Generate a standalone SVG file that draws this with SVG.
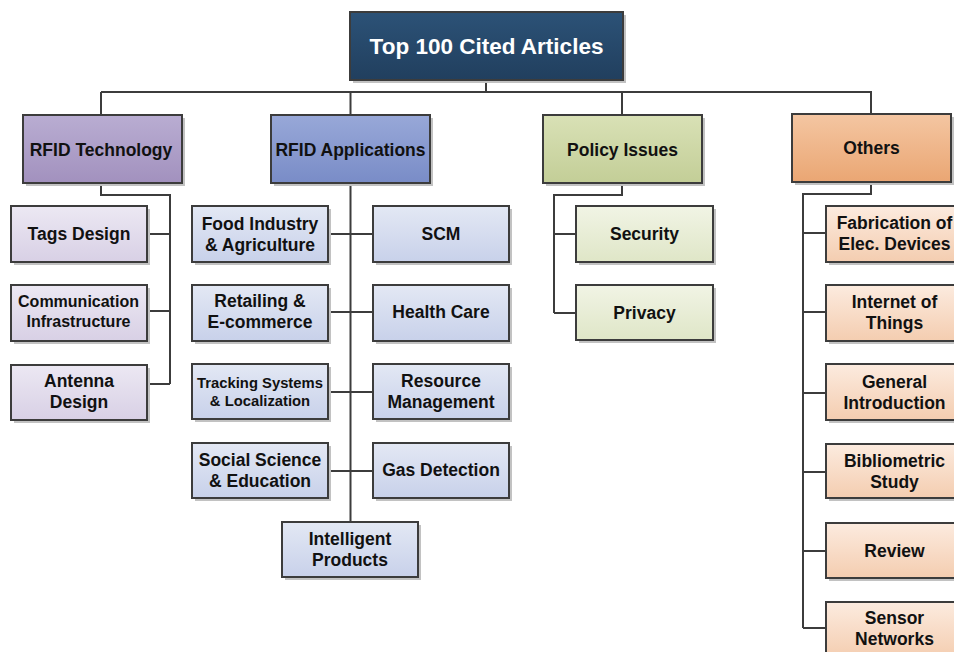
<svg xmlns="http://www.w3.org/2000/svg" width="954" height="652" viewBox="0 0 954 652">
<defs>
<linearGradient id="gTop" x1="0" y1="0" x2="0" y2="1"><stop offset="0" stop-color="#2c5277"/><stop offset="1" stop-color="#213f5e"/></linearGradient>
<linearGradient id="gPur" x1="0" y1="0" x2="0" y2="1"><stop offset="0" stop-color="#b9add2"/><stop offset="1" stop-color="#a291be"/></linearGradient>
<linearGradient id="gBlu" x1="0" y1="0" x2="0" y2="1"><stop offset="0" stop-color="#98a8d8"/><stop offset="1" stop-color="#798cc7"/></linearGradient>
<linearGradient id="gGrn" x1="0" y1="0" x2="0" y2="1"><stop offset="0" stop-color="#d9e1b6"/><stop offset="1" stop-color="#c3ce97"/></linearGradient>
<linearGradient id="gOrg" x1="0" y1="0" x2="0" y2="1"><stop offset="0" stop-color="#f4c6a2"/><stop offset="1" stop-color="#eaa673"/></linearGradient>
<linearGradient id="cPur" x1="0" y1="0" x2="0" y2="1"><stop offset="0" stop-color="#ece8f3"/><stop offset="1" stop-color="#d8d0e5"/></linearGradient>
<linearGradient id="cBlu" x1="0" y1="0" x2="0" y2="1"><stop offset="0" stop-color="#e3e8f4"/><stop offset="1" stop-color="#c8d1ea"/></linearGradient>
<linearGradient id="cGrn" x1="0" y1="0" x2="0" y2="1"><stop offset="0" stop-color="#f1f4e5"/><stop offset="1" stop-color="#dfe6c7"/></linearGradient>
<linearGradient id="cOrg" x1="0" y1="0" x2="0" y2="1"><stop offset="0" stop-color="#fcebdf"/><stop offset="1" stop-color="#f4cdb0"/></linearGradient>
</defs>
<style>
.sh{fill:#c2c2c2;}
.bx{stroke:#3c3c3c;stroke-width:2;}
text{font-family:"Liberation Sans",Arial,sans-serif;font-weight:bold;text-anchor:middle;fill:#111;font-size:17.5px;}
.title{fill:#fff;font-size:22.5px;}
.sm{font-size:16px;}
.xs{font-size:14.8px;}
.cn{fill:none;stroke:#3c3c3c;stroke-width:2;}
</style>
<rect width="954" height="652" fill="#fff"/>

<g id="connectors" class="cn">
<path d="M486 80V92M101 92H872M101 92V115M350.5 92V115M622 92V115M871 92V114"/>
<path d="M101 183V195H170V384M147 234H170M147 311H170M147 384H170"/>
<path d="M350.5 183V522M328 234H373M328 312H373M328 392H373M328 471H373"/>
<path d="M622 183V195H554V313M554 234H576M554 313H576"/>
<path d="M871 182V194H803V628M803 233H826M803 312H826M803 393H826M803 472H826M803 551H826M803 628H826"/>
</g>

<g id="top"><rect class="sh" x="353" y="15" width="273" height="68"/><rect class="bx" x="350" y="12" width="273" height="68" fill="url(#gTop)"/><text class="title" x="486.5" y="54">Top 100 Cited Articles</text></g>

<g id="rfid-tech"><rect class="sh" x="26" y="118" width="159" height="68"/><rect class="bx" x="23" y="115" width="159" height="68" fill="url(#gPur)"/><text x="101" y="155.5">RFID Technology</text></g>
<g id="tags"><rect class="sh" x="14" y="209" width="136" height="56"/><rect class="bx" x="11" y="206" width="136" height="56" fill="url(#cPur)"/><text x="79" y="240">Tags Design</text></g>
<g id="comm"><rect class="sh" x="14" y="288" width="136" height="56"/><rect class="bx" x="11" y="285" width="136" height="56" fill="url(#cPur)"/><text class="sm" x="78.5" y="307">Communication</text><text class="sm" x="78.5" y="327">Infrastructure</text></g>
<g id="antenna"><rect class="sh" x="14" y="368" width="136" height="55"/><rect class="bx" x="11" y="365" width="136" height="55" fill="url(#cPur)"/><text x="79" y="387">Antenna</text><text x="79" y="408">Design</text></g>

<g id="rfid-app"><rect class="sh" x="274" y="118" width="159" height="68"/><rect class="bx" x="271" y="115" width="159" height="68" fill="url(#gBlu)"/><text x="350.5" y="155.5">RFID Applications</text></g>
<g id="food"><rect class="sh" x="195" y="209" width="136" height="56"/><rect class="bx" x="192" y="206" width="136" height="56" fill="url(#cBlu)"/><text x="260" y="229.5">Food Industry</text><text x="260" y="250.5">&amp; Agriculture</text></g>
<g id="scm"><rect class="sh" x="376" y="209" width="136" height="56"/><rect class="bx" x="373" y="206" width="136" height="56" fill="url(#cBlu)"/><text x="441" y="240">SCM</text></g>
<g id="retail"><rect class="sh" x="195" y="288" width="136" height="56"/><rect class="bx" x="192" y="285" width="136" height="56" fill="url(#cBlu)"/><text x="260" y="307">Retailing &amp;</text><text x="260" y="328">E-commerce</text></g>
<g id="health"><rect class="sh" x="376" y="288" width="136" height="56"/><rect class="bx" x="373" y="285" width="136" height="56" fill="url(#cBlu)"/><text x="441" y="318">Health Care</text></g>
<g id="tracking"><rect class="sh" x="195" y="367" width="136" height="55"/><rect class="bx" x="192" y="364" width="136" height="55" fill="url(#cBlu)"/><text class="xs" x="260" y="388">Tracking Systems</text><text class="xs" x="260" y="406">&amp; Localization</text></g>
<g id="resource"><rect class="sh" x="376" y="367" width="136" height="55"/><rect class="bx" x="373" y="364" width="136" height="55" fill="url(#cBlu)"/><text x="441" y="387">Resource</text><text x="441" y="408">Management</text></g>
<g id="social"><rect class="sh" x="195" y="446" width="136" height="55"/><rect class="bx" x="192" y="443" width="136" height="55" fill="url(#cBlu)"/><text x="260" y="466">Social Science</text><text x="260" y="487">&amp; Education</text></g>
<g id="gas"><rect class="sh" x="376" y="446" width="136" height="55"/><rect class="bx" x="373" y="443" width="136" height="55" fill="url(#cBlu)"/><text x="441" y="476">Gas Detection</text></g>
<g id="intelligent"><rect class="sh" x="285" y="525" width="136" height="55"/><rect class="bx" x="282" y="522" width="136" height="55" fill="url(#cBlu)"/><text x="350" y="545">Intelligent</text><text x="350" y="566">Products</text></g>

<g id="policy"><rect class="sh" x="546" y="118" width="159" height="68"/><rect class="bx" x="543" y="115" width="159" height="68" fill="url(#gGrn)"/><text x="622.5" y="155.5">Policy Issues</text></g>
<g id="security"><rect class="sh" x="579" y="209" width="137" height="56"/><rect class="bx" x="576" y="206" width="137" height="56" fill="url(#cGrn)"/><text x="644.5" y="240">Security</text></g>
<g id="privacy"><rect class="sh" x="579" y="288" width="137" height="55"/><rect class="bx" x="576" y="285" width="137" height="55" fill="url(#cGrn)"/><text x="644.5" y="319">Privacy</text></g>

<g id="others"><rect class="sh" x="795" y="117" width="159" height="68"/><rect class="bx" x="792" y="114" width="159" height="68" fill="url(#gOrg)"/><text x="871.5" y="154">Others</text></g>
<g id="fab"><rect class="sh" x="829" y="209" width="136" height="56"/><rect class="bx" x="826" y="206" width="136" height="56" fill="url(#cOrg)"/><text x="894.5" y="229">Fabrication of</text><text x="894.5" y="250">Elec. Devices</text></g>
<g id="iot"><rect class="sh" x="829" y="288" width="136" height="56"/><rect class="bx" x="826" y="285" width="136" height="56" fill="url(#cOrg)"/><text x="894.5" y="308">Internet of</text><text x="894.5" y="329">Things</text></g>
<g id="general"><rect class="sh" x="829" y="367" width="136" height="56"/><rect class="bx" x="826" y="364" width="136" height="56" fill="url(#cOrg)"/><text x="894.5" y="388">General</text><text x="894.5" y="409">Introduction</text></g>
<g id="biblio"><rect class="sh" x="829" y="447" width="136" height="54"/><rect class="bx" x="826" y="444" width="136" height="54" fill="url(#cOrg)"/><text x="894.5" y="467">Bibliometric</text><text x="894.5" y="488">Study</text></g>
<g id="review"><rect class="sh" x="829" y="526" width="136" height="55"/><rect class="bx" x="826" y="523" width="136" height="55" fill="url(#cOrg)"/><text x="894.5" y="557">Review</text></g>
<g id="sensor"><rect class="sh" x="829" y="605" width="136" height="56"/><rect class="bx" x="826" y="602" width="136" height="56" fill="url(#cOrg)"/><text x="894.5" y="624">Sensor</text><text x="894.5" y="645">Networks</text></g>
</svg>
